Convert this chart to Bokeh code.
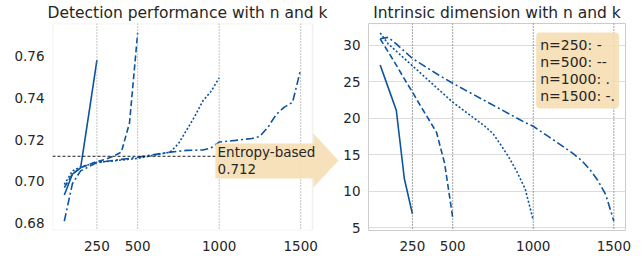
from bokeh.plotting import figure
from bokeh.models import Span, Label, PolyAnnotation, BoxAnnotation, FixedTicker, PrintfTickFormatter, Range1d
from bokeh.layouts import row
from bokeh.embed import file_html
from bokeh.resources import INLINE

# ---------------- data ----------------
k250 = [50, 100, 150, 200, 250]
perf250 = [0.6935, 0.7035, 0.7065, 0.732, 0.758]
dim250 = [27.3, 24.2, 21.1, 11.7, 6.9]

k500 = [50, 100, 150, 200, 250, 300, 350, 400, 450, 500]
perf500 = [0.697, 0.7035, 0.7065, 0.708, 0.7095, 0.7105, 0.712, 0.714, 0.728, 0.771]
dim500 = [30.9, 29.1, 27.3, 25.4, 23.6, 21.7, 19.9, 18.05, 13.8, 6.4]

k1000 = [50, 100, 150, 250, 500, 700, 750, 800, 850, 900, 950, 1000]
perf1000 = [0.6985, 0.705, 0.707, 0.709, 0.711, 0.714, 0.718, 0.7245, 0.731, 0.7385, 0.743, 0.7495]
dim1000 = [31.7, 30.2, 29.2, 27.2, 22.2, 18.9, 17.9, 16.3, 14.6, 12.6, 10.3, 6.0]

k1500 = [50, 100, 150, 250, 400, 500, 600, 700, 800, 900, 950, 1000, 1100, 1200, 1250,
         1300, 1350, 1400, 1450, 1500]
perf1500 = [0.681, 0.699, 0.705, 0.709, 0.7105, 0.7115, 0.7128, 0.714, 0.7148, 0.7150, 0.716,
            0.7188, 0.7196, 0.7205, 0.7215, 0.726, 0.732, 0.7355, 0.7378, 0.7535]
dim1500 = [30.9, 31.1, 30.2, 28.2, 26.1, 24.8, 23.6, 22.4, 21.2, 20.0, 19.4, 18.9, 17.4, 15.9,
           15.1, 14.2, 13.0, 11.5, 9.5, 5.9]

n_values = [250, 500, 1000, 1500]
n_marks = ["-", "--", ".", "-."]
xticks = [250, 500, 1000, 1500]
perf_ticks = [0.68, 0.70, 0.72, 0.74, 0.76]
dim_ticks = [5, 10, 15, 20, 25, 30]
entropy_value = 0.712

# layout constants
XLIM = (-22.5, 1572.5)
PERF_LIM = (0.6765, 0.7755)
DIM_LIM = (4.6, 33.0)
FRAME_W = 260
LEFT_EXTRA = 28  # room inside left frame for the arrow head
x_ext = XLIM[1] + LEFT_EXTRA * (XLIM[1] - XLIM[0]) / FRAME_W

BLUE = "#0c54a0"
TXT = "#262626"
FONT = "DejaVu Sans"
WHEAT = "#f5deb3"
dashes = ["solid", "6 3", "2 2", "8 3 2 3"]


def style(p, yticks, fmt, hgrid):
    p.background_fill_color = "white"
    p.border_fill_color = "white"
    p.outline_line_color = "#cccccc"
    p.outline_line_width = 1
    p.title.text_font = FONT
    p.title.text_font_size = "15.5px"
    p.title.text_font_style = "normal"
    p.title.text_color = TXT
    p.title.align = "center"
    p.title.standoff = 3
    for ax in (p.xaxis[0], p.yaxis[0]):
        ax.axis_line_color = None
        ax.major_tick_line_color = None
        ax.minor_tick_line_color = None
        ax.major_tick_out = 0
        ax.major_tick_in = 0
        ax.major_label_text_font = FONT
        ax.major_label_text_font_size = "13.5px"
        ax.major_label_text_color = TXT
    p.xaxis[0].ticker = FixedTicker(ticks=xticks)
    p.yaxis[0].ticker = FixedTicker(ticks=yticks)
    p.yaxis[0].formatter = PrintfTickFormatter(format=fmt)
    p.xaxis[0].major_label_standoff = 10
    p.yaxis[0].major_label_standoff = 8
    p.xgrid.grid_line_color = None
    if hgrid:
        p.ygrid.grid_line_color = "#dcdcdc"
        p.ygrid.grid_line_width = 1
        p.ygrid.ticker = FixedTicker(ticks=yticks)
    else:
        p.ygrid.grid_line_color = None


# ---------------- left: detection performance ----------------
p1 = figure(width=52 + FRAME_W + LEFT_EXTRA, height=256, output_backend="svg", toolbar_location=None,
            title="Detection performance with n and k",
            x_range=Range1d(XLIM[0], x_ext), y_range=Range1d(*PERF_LIM),
            min_border_left=52, min_border_right=0, min_border_top=23, min_border_bottom=26)
style(p1, perf_ticks, "%.2f", False)
p1.outline_line_color = None
p1.title.align = "left"
p1.title.offset = -5
p1.add_layout(BoxAnnotation(left=XLIM[0], right=XLIM[1], bottom=PERF_LIM[0], top=PERF_LIM[1],
                            fill_alpha=0, line_color="#cccccc", line_width=1.5, level="underlay"))

for xv in xticks:
    p1.add_layout(Span(location=xv, dimension="height", line_color="#8a8a8a",
                       line_width=1, line_dash="1 2"))

for ks, vs, d in zip([k250, k500, k1000, k1500], [perf250, perf500, perf1000, perf1500], dashes):
    p1.line(ks, vs, line_color=BLUE, line_width=1.6, line_dash=d)

p1.line(list(XLIM), [entropy_value, entropy_value], line_color="black",
        line_width=0.9, line_dash="3 2")

arrow = PolyAnnotation(xs=[977, 1578, 1578, 1732, 1578, 1578, 977],
                       ys=[0.7181, 0.7181, 0.7229, 0.7100, 0.6971, 0.7014, 0.7014],
                       fill_color=WHEAT, fill_alpha=0.9, line_color=None)
p1.add_layout(arrow)
p1.add_layout(Label(x=990, y=0.7180, text="Entropy-based\n%.3f" % entropy_value,
                    anchor="top_left", text_font=FONT, text_font_size="13.5px",
                    text_color=TXT, text_line_height=1.1))

# ---------------- right: intrinsic dimension ----------------
p2 = figure(width=25 + FRAME_W + 17, height=256, output_backend="svg", toolbar_location=None,
            title="Intrinsic dimension with n and k",
            x_range=Range1d(*XLIM), y_range=Range1d(*DIM_LIM),
            min_border_left=25, min_border_right=17, min_border_top=23, min_border_bottom=26)
style(p2, dim_ticks, "%d", True)

for xv in xticks:
    p2.add_layout(Span(location=xv, dimension="height", line_color="#444444",
                       line_width=1, line_dash="1 2"))

for ks, vs, d in zip([k250, k500, k1000, k1500], [dim250, dim500, dim1000, dim1500], dashes):
    p2.line(ks, vs, line_color=BLUE, line_width=1.6, line_dash=d)

legend_text = "\n".join("n=%d: %s" % (n, m) for n, m in zip(n_values, n_marks))
p2.add_layout(Label(x=1018, y=31.75, text=legend_text, anchor="top_left",
                    text_font=FONT, text_font_size="14px", text_color=TXT,
                    text_line_height=1.08,
                    background_fill_color=WHEAT, background_fill_alpha=0.9,
                    padding=4, border_radius=4))

layout = row(p1, p2)
open("out.html", "w").write(file_html(layout, INLINE))
